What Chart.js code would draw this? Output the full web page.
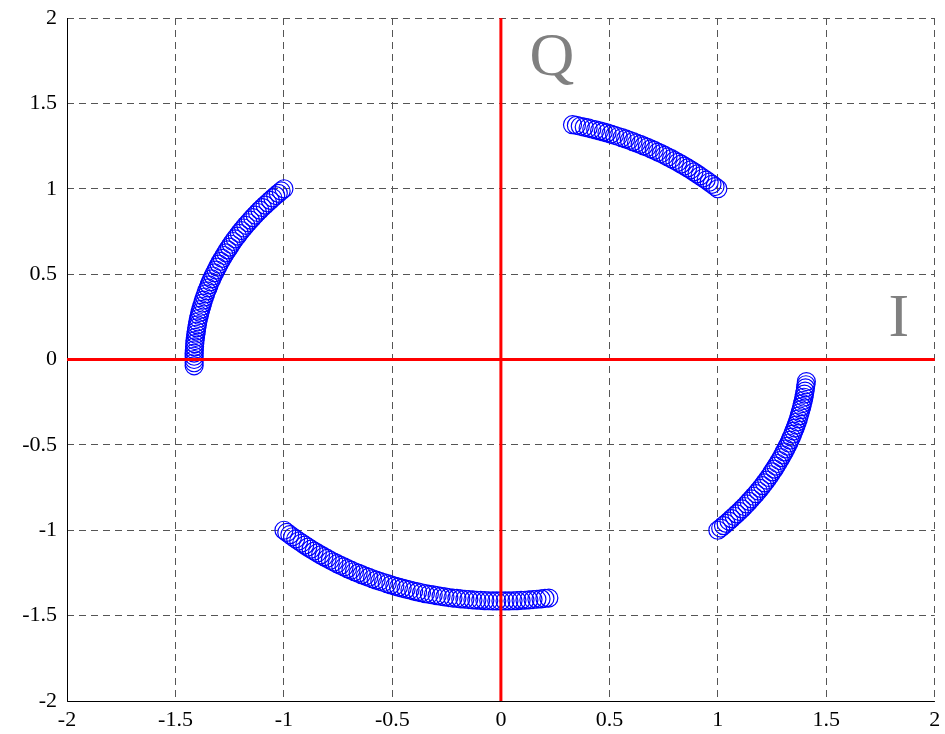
<!DOCTYPE html>
<html lang="en">
<head>
	<meta charset="utf-8">
	<title>IQ Constellation</title>
	<script src="https://cdn.jsdelivr.net/npm/chart.js@4.4.0/dist/chart.umd.min.js"></script>
	<style>
		html, body { margin: 0; padding: 0; background: #fff; }
		#wrap { width: 945px; height: 734px; }
	</style>
</head>
<body>
	<div id="wrap"><canvas id="iq"></canvas></div>
	<script>
		// arc values (I, Q)
		const upperLeftI = [-1.000,-1.013,-1.026,-1.038,-1.051,-1.063,-1.075,-1.087,-1.099,-1.111,
			-1.122,-1.133,-1.144,-1.155,-1.165,-1.176,-1.186,-1.196,-1.206,-1.215,
			-1.225,-1.234,-1.243,-1.251,-1.260,-1.268,-1.276,-1.284,-1.292,-1.299,
			-1.306,-1.313,-1.320,-1.327,-1.333,-1.339,-1.345,-1.350,-1.356,-1.361,
			-1.366,-1.371,-1.375,-1.379,-1.383,-1.387,-1.390,-1.394,-1.397,-1.399,
			-1.402,-1.404,-1.406,-1.408,-1.410,-1.411,-1.412,-1.413,-1.414,-1.414,
			-1.414,-1.414,-1.414];
		const upperLeftQ = [1.000,0.987,0.973,0.960,0.946,0.932,0.918,0.904,0.890,0.875,
			0.861,0.846,0.831,0.816,0.801,0.786,0.770,0.755,0.739,0.723,
			0.707,0.691,0.675,0.658,0.642,0.625,0.609,0.592,0.575,0.558,
			0.541,0.524,0.507,0.489,0.472,0.455,0.437,0.419,0.402,0.384,
			0.366,0.348,0.330,0.312,0.294,0.276,0.258,0.240,0.221,0.203,
			0.185,0.166,0.148,0.129,0.111,0.093,0.074,0.056,0.037,0.019,
			0.000,-0.019,-0.037];

		const upperRightI = [1.000,0.987,0.973,0.960,0.946,0.932,0.918,0.904,0.890,0.875,
			0.861,0.846,0.831,0.816,0.801,0.786,0.770,0.755,0.739,0.723,
			0.707,0.691,0.675,0.658,0.642,0.625,0.609,0.592,0.575,0.558,
			0.541,0.524,0.507,0.489,0.472,0.455,0.437,0.419,0.402,0.384,
			0.366,0.348,0.330];
		const upperRightQ = [1.000,1.013,1.026,1.038,1.051,1.063,1.075,1.087,1.099,1.111,
			1.122,1.133,1.144,1.155,1.165,1.176,1.186,1.196,1.206,1.215,
			1.225,1.234,1.243,1.251,1.260,1.268,1.276,1.284,1.292,1.299,
			1.306,1.313,1.320,1.327,1.333,1.339,1.345,1.350,1.356,1.361,
			1.366,1.371,1.375];

		const lowerRightI = [1.000,1.013,1.026,1.038,1.051,1.063,1.075,1.087,1.099,1.111,
			1.122,1.133,1.144,1.155,1.165,1.176,1.186,1.196,1.206,1.215,
			1.225,1.234,1.243,1.251,1.260,1.268,1.276,1.284,1.292,1.299,
			1.306,1.313,1.320,1.327,1.333,1.339,1.345,1.350,1.356,1.361,
			1.366,1.371,1.375,1.379,1.383,1.387,1.390,1.394,1.397,1.399,
			1.402,1.404,1.406,1.408];
		const lowerRightQ = [-1.000,-0.987,-0.973,-0.960,-0.946,-0.932,-0.918,-0.904,-0.890,-0.875,
			-0.861,-0.846,-0.831,-0.816,-0.801,-0.786,-0.770,-0.755,-0.739,-0.723,
			-0.707,-0.691,-0.675,-0.658,-0.642,-0.625,-0.609,-0.592,-0.575,-0.558,
			-0.541,-0.524,-0.507,-0.489,-0.472,-0.455,-0.437,-0.419,-0.402,-0.384,
			-0.366,-0.348,-0.330,-0.312,-0.294,-0.276,-0.258,-0.240,-0.221,-0.203,
			-0.185,-0.166,-0.148,-0.129];

		const lowerLeftI = [-1.000,-0.987,-0.973,-0.960,-0.946,-0.932,-0.918,-0.904,-0.890,-0.875,
			-0.861,-0.846,-0.831,-0.816,-0.801,-0.786,-0.770,-0.755,-0.739,-0.723,
			-0.707,-0.691,-0.675,-0.658,-0.642,-0.625,-0.609,-0.592,-0.575,-0.558,
			-0.541,-0.524,-0.507,-0.489,-0.472,-0.455,-0.437,-0.419,-0.402,-0.384,
			-0.366,-0.348,-0.330,-0.312,-0.294,-0.276,-0.258,-0.240,-0.221,-0.203,
			-0.185,-0.166,-0.148,-0.129,-0.111,-0.093,-0.074,-0.056,-0.037,-0.019,
			0.000,0.019,0.037,0.056,0.074,0.093,0.111,0.129,0.148,0.166,
			0.185,0.203,0.221];
		const lowerLeftQ = [-1.000,-1.013,-1.026,-1.038,-1.051,-1.063,-1.075,-1.087,-1.099,-1.111,
			-1.122,-1.133,-1.144,-1.155,-1.165,-1.176,-1.186,-1.196,-1.206,-1.215,
			-1.225,-1.234,-1.243,-1.251,-1.260,-1.268,-1.276,-1.284,-1.292,-1.299,
			-1.306,-1.313,-1.320,-1.327,-1.333,-1.339,-1.345,-1.350,-1.356,-1.361,
			-1.366,-1.371,-1.375,-1.379,-1.383,-1.387,-1.390,-1.394,-1.397,-1.399,
			-1.402,-1.404,-1.406,-1.408,-1.410,-1.411,-1.412,-1.413,-1.414,-1.414,
			-1.414,-1.414,-1.414,-1.413,-1.412,-1.411,-1.410,-1.408,-1.406,-1.404,
			-1.402,-1.399,-1.397];

		const axisMin = -2;
		const axisMax = 2;
		const tickStep = 0.5;

		function pairs(xs, ys) {
			return xs.map(function (x, i) { return { x: x, y: ys[i] }; });
		}

		const arcs = [
			pairs(upperLeftI, upperLeftQ),
			pairs(upperRightI, upperRightQ),
			pairs(lowerRightI, lowerRightQ),
			pairs(lowerLeftI, lowerLeftQ)
		];

		// red I/Q axes through the origin, solid left/bottom frame, big grey labels
		const iqAxes = {
			id: 'iqAxes',
			afterDatasetsDraw: function (chart) {
				const ctx = chart.ctx;
				const xs = chart.scales.x;
				const ys = chart.scales.y;
				const area = chart.chartArea;
				const x0 = xs.getPixelForValue(0);
				const y0 = ys.getPixelForValue(0);
				ctx.save();
				ctx.setLineDash([]);
				ctx.strokeStyle = '#000';
				ctx.lineWidth = 1;
				ctx.beginPath();
				ctx.moveTo(area.left + 0.5, area.top);
				ctx.lineTo(area.left + 0.5, area.bottom + 0.5);
				ctx.lineTo(area.right, area.bottom + 0.5);
				ctx.stroke();

				ctx.strokeStyle = '#ff0000';
				ctx.lineWidth = 3;
				ctx.beginPath();
				ctx.moveTo(x0, area.top);
				ctx.lineTo(x0, area.bottom);
				ctx.moveTo(area.left, y0);
				ctx.lineTo(area.right, y0);
				ctx.stroke();

				ctx.fillStyle = '#808080';
				ctx.font = '62px "Liberation Serif"';
				ctx.textAlign = 'center';
				ctx.textBaseline = 'alphabetic';
				ctx.fillText('Q', xs.getPixelForValue(0.235), ys.getPixelForValue(1.666));
				ctx.fillText('I', xs.getPixelForValue(1.834), ys.getPixelForValue(0.14));
				ctx.restore();
			}
		};

		const gridStyle = {
			color: '#555555',
			lineWidth: 1,
			drawTicks: false
		};

		const tickFont = { family: '"Liberation Serif"', size: 22 };

		function tickText(value) {
			return String(value);
		}

		new Chart(document.getElementById('iq'), {
			type: 'scatter',
			data: {
				datasets: arcs.map(function (pts) {
					return {
						data: pts,
						pointStyle: 'circle',
						pointRadius: 9,
						pointBorderWidth: 1.2,
						pointBorderColor: '#0000ff',
						pointBackgroundColor: 'rgba(0,0,0,0)',
						showLine: false
					};
				})
			},
			options: {
				responsive: true,
				maintainAspectRatio: false,
				animation: false,
				layout: { padding: { top: 18, right: 10, left: 0, bottom: 0 } },
				plugins: {
					legend: { display: false },
					tooltip: { enabled: false }
				},
				scales: {
					x: {
						type: 'linear',
						min: axisMin,
						max: axisMax,
						afterFit: function (scale) {
							scale.height = 33;
							scale.paddingLeft = 0;
							scale.paddingRight = 0;
						},
						grid: gridStyle,
						border: { display: false, dash: [7, 5] },
						ticks: {
							stepSize: tickStep,
							color: '#000',
							padding: 6,
							maxRotation: 0,
							font: tickFont,
							callback: tickText
						}
					},
					y: {
						type: 'linear',
						min: axisMin,
						max: axisMax,
						afterFit: function (scale) {
							scale.width = 67;
							scale.paddingTop = 0;
							scale.paddingBottom = 0;
						},
						grid: gridStyle,
						border: { display: false, dash: [7, 5] },
						ticks: {
							stepSize: tickStep,
							color: '#000',
							padding: 10,
							font: tickFont,
							callback: tickText
						}
					}
				}
			},
			plugins: [iqAxes]
		});
	</script>
</body>
</html>
